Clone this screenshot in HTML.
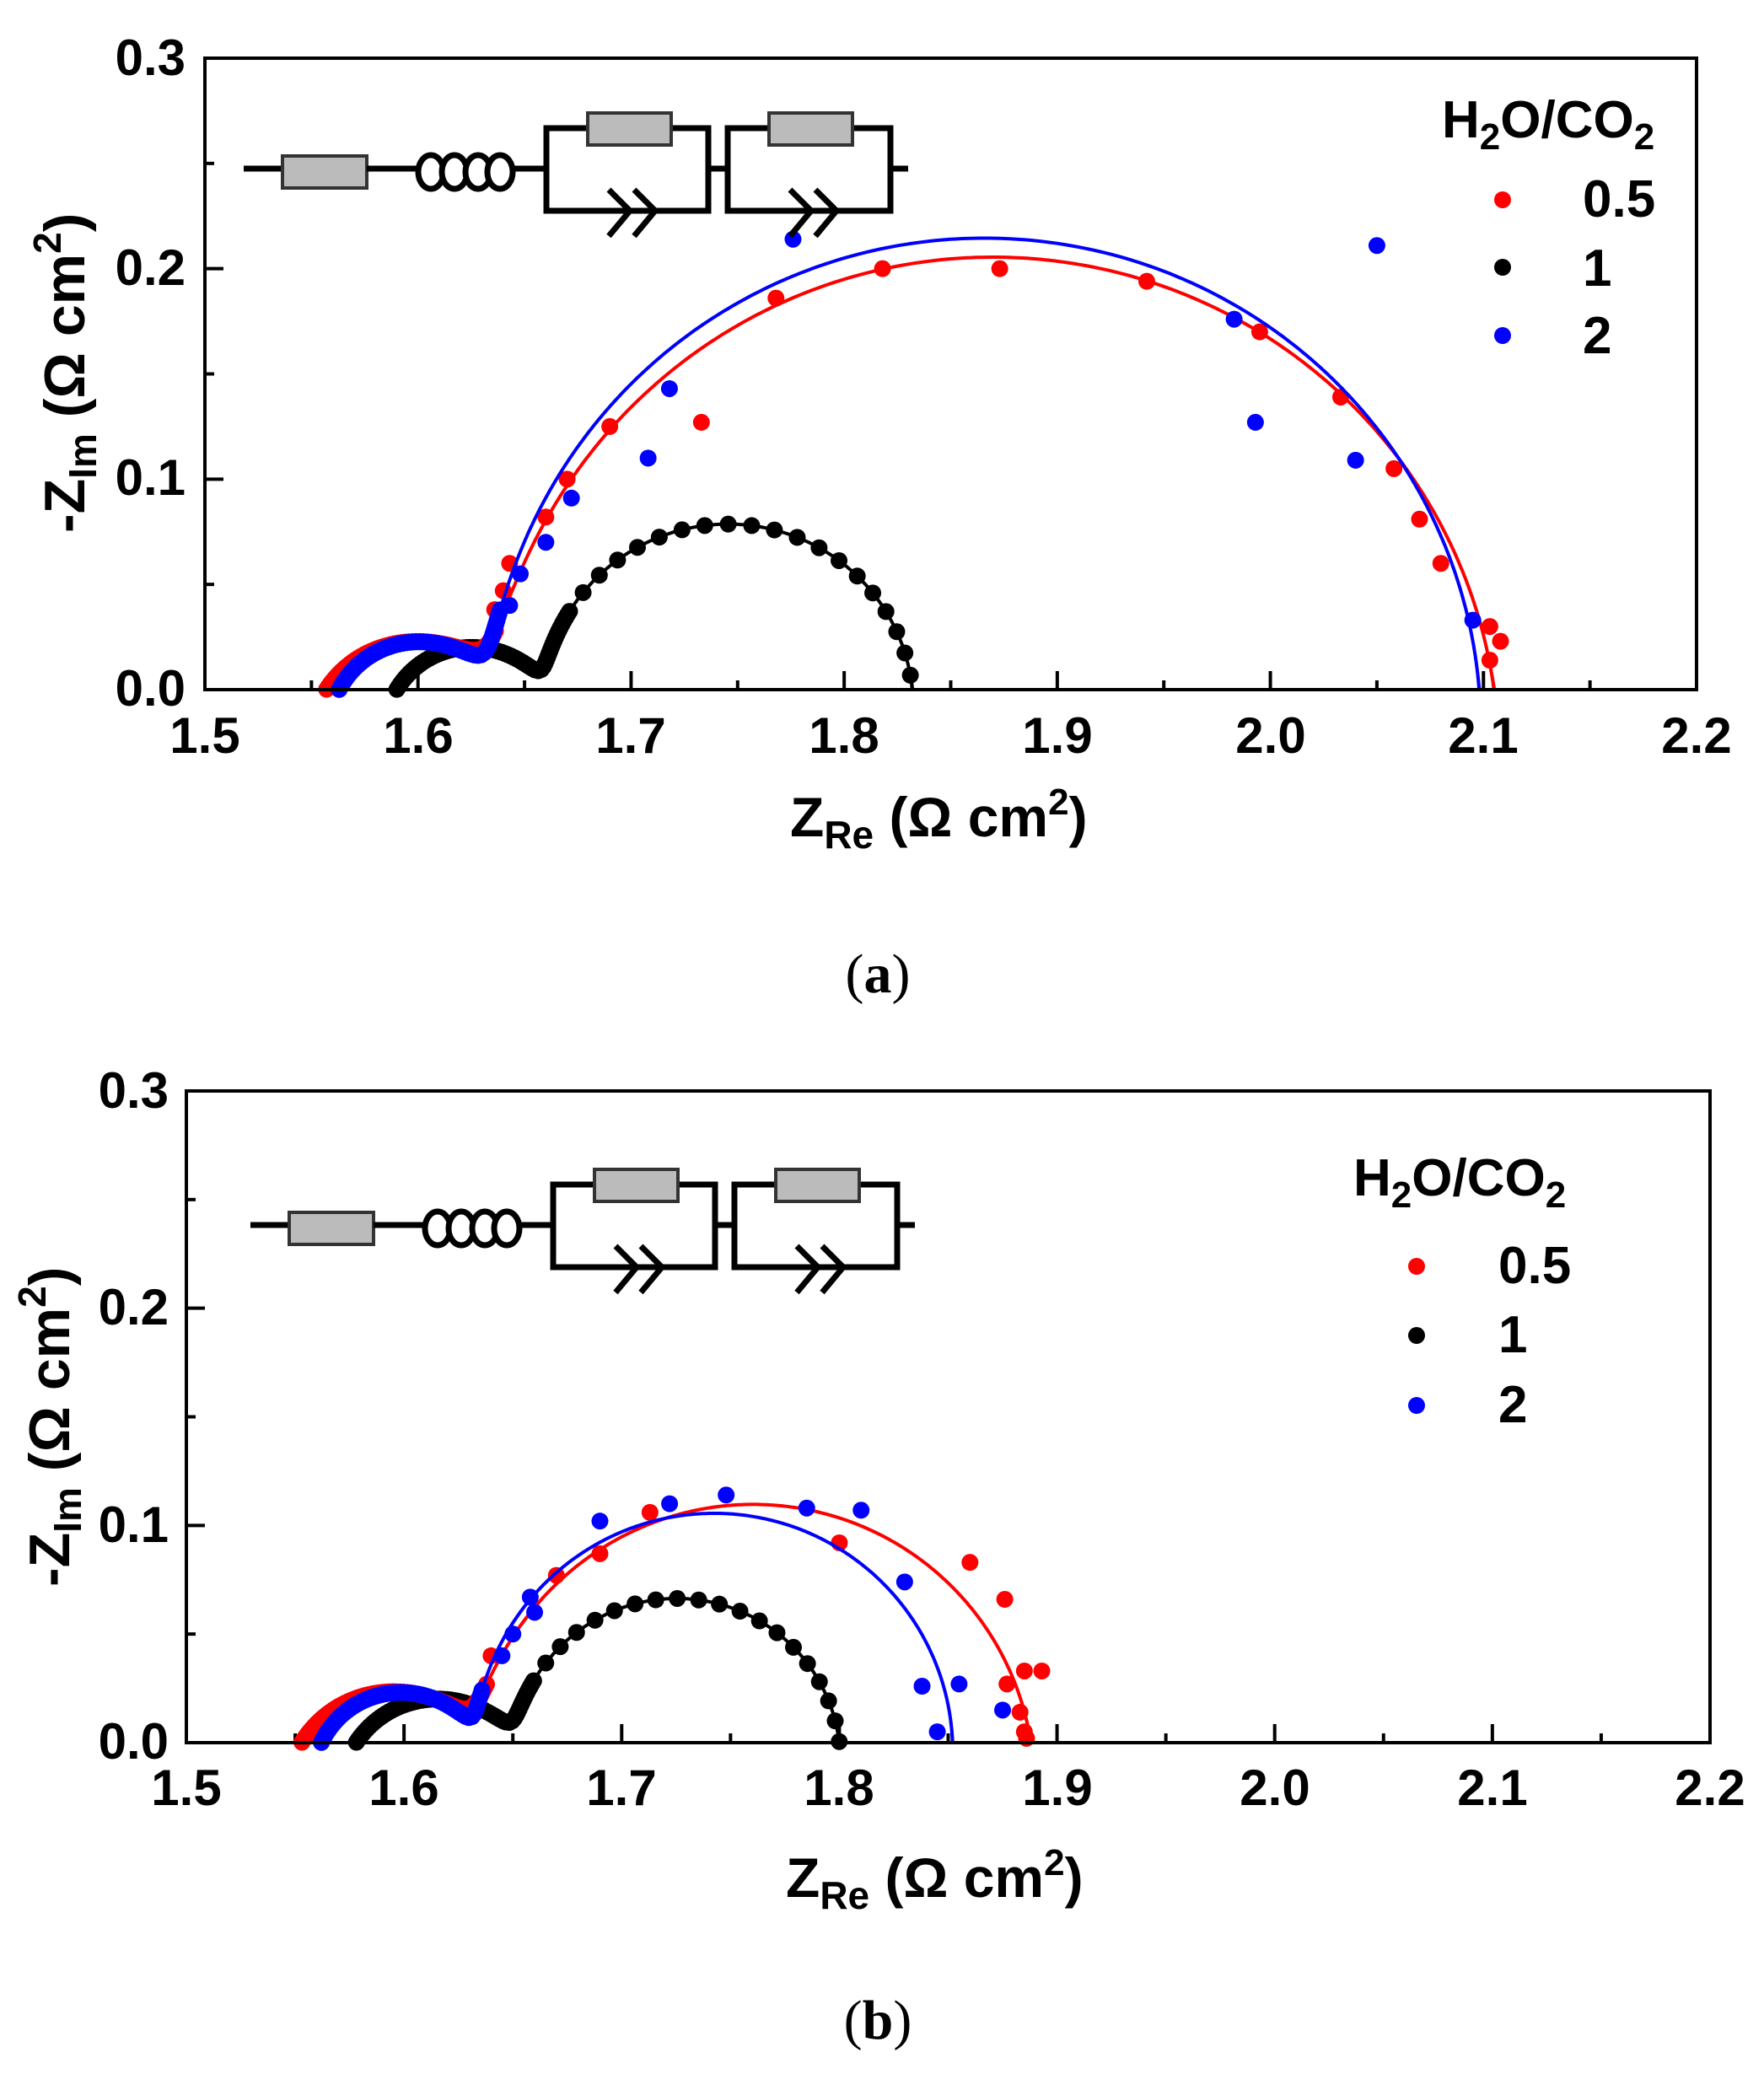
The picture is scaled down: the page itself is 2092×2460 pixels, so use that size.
<!DOCTYPE html>
<html><head><meta charset="utf-8"><style>
html,body{margin:0;padding:0;background:#fff}
svg{display:block}
text{font-family:"Liberation Sans",Arial,sans-serif;font-weight:bold;fill:#000}
.ser{font-family:"Liberation Serif",serif}
</style></head><body>
<svg id="s" width="2092" height="2460" viewBox="0 0 2092 2460" xmlns="http://www.w3.org/2000/svg">
<rect width="2092" height="2460" fill="#fff"/>
<defs>
<g id="circ" stroke="#000" stroke-width="7" fill="none">
  <line x1="289" y1="200" x2="335" y2="200"/>
  <rect x="335" y="185" width="100" height="38" fill="#bbb" stroke="#333" stroke-width="4"/>
  <line x1="435" y1="200" x2="497" y2="200"/>
  <ellipse cx="511" cy="204" rx="15" ry="20" fill="#fff"/>
  <ellipse cx="539" cy="204" rx="15" ry="20" fill="#fff"/>
  <ellipse cx="567" cy="204" rx="15" ry="20" fill="#fff"/>
  <ellipse cx="593" cy="204" rx="15" ry="20" fill="#fff"/>
  <line x1="608" y1="200" x2="648" y2="200"/>
  <polyline points="697,152 648,152 648,250 840,250 840,152 796,152"/>
  <rect x="697" y="134" width="99" height="38" fill="#bbb" stroke="#333" stroke-width="4"/>
  <polyline points="722,225 747,250 722,280"/>
  <polyline points="752,225 777,250 752,280"/>
  <line x1="840" y1="200" x2="863" y2="200"/>
  <polyline points="912,152 863,152 863,250 1056,250 1056,152 1011,152"/>
  <rect x="912" y="134" width="99" height="38" fill="#bbb" stroke="#333" stroke-width="4"/>
  <polyline points="937,225 962,250 937,280"/>
  <polyline points="967,225 992,250 967,280"/>
  <line x1="1056" y1="200" x2="1077" y2="200"/>
</g>
</defs>
<g id="pa"></g><g id="pb"></g>
<use href="#circ"/>
<use href="#circ" transform="translate(8,1253)"/>

<g font-size="60" text-anchor="end">
<text x="220" y="89">0.3</text><text x="220" y="338">0.2</text><text x="220" y="587">0.1</text><text x="220" y="837">0.0</text>
</g>
<g font-size="60" text-anchor="middle">
<text x="243" y="893">1.5</text><text x="496" y="893">1.6</text><text x="748" y="893">1.7</text><text x="1001" y="893">1.8</text><text x="1254" y="893">1.9</text><text x="1507" y="893">2.0</text><text x="1759" y="893">2.1</text><text x="2012" y="893">2.2</text>
</g>
<text x="937" y="992" font-size="66">Z<tspan font-size="46" dy="14">Re</tspan><tspan dy="-14"> (Ω cm</tspan><tspan font-size="44" dy="-26">2</tspan><tspan dy="26">)</tspan></text>
<text transform="translate(100,632) rotate(-90)" font-size="68">-Z<tspan font-size="46" dy="14">Im</tspan><tspan dy="-14"> (Ω cm</tspan><tspan font-size="46" dy="-28">2</tspan><tspan dy="28">)</tspan></text>
<text class="ser" x="1041" y="1177" font-size="66" text-anchor="middle"><tspan font-weight="normal">(</tspan>a<tspan font-weight="normal">)</tspan></text>
<text x="1710" y="163" font-size="62">H<tspan font-size="44" dy="14">2</tspan><tspan dy="-14">O/CO</tspan><tspan font-size="44" dy="14">2</tspan></text>
<circle cx="1782" cy="237" r="10" fill="#f00"/><circle cx="1782" cy="317" r="10" fill="#000"/><circle cx="1782" cy="398" r="10" fill="#00f"/>
<text x="1877" y="257" font-size="62">0.5</text><text x="1877" y="339" font-size="62">1</text><text x="1877" y="419" font-size="62">2</text>

<g font-size="60" text-anchor="end">
<text x="200" y="1314">0.3</text><text x="200" y="1571">0.2</text><text x="200" y="1829">0.1</text><text x="200" y="2086">0.0</text>
</g>
<g font-size="60" text-anchor="middle">
<text x="221" y="2141">1.5</text><text x="479" y="2141">1.6</text><text x="737" y="2141">1.7</text><text x="995" y="2141">1.8</text><text x="1254" y="2141">1.9</text><text x="1512" y="2141">2.0</text><text x="1770" y="2141">2.1</text><text x="2028" y="2141">2.2</text>
</g>
<text x="932" y="2250" font-size="66">Z<tspan font-size="46" dy="14">Re</tspan><tspan dy="-14"> (Ω cm</tspan><tspan font-size="44" dy="-26">2</tspan><tspan dy="26">)</tspan></text>
<text transform="translate(82,1882) rotate(-90)" font-size="68">-Z<tspan font-size="46" dy="14">Im</tspan><tspan dy="-14"> (Ω cm</tspan><tspan font-size="46" dy="-28">2</tspan><tspan dy="28">)</tspan></text>
<text class="ser" x="1041" y="2418" font-size="66" text-anchor="middle"><tspan font-weight="normal">(</tspan>b<tspan font-weight="normal">)</tspan></text>
<text x="1605" y="1418" font-size="62">H<tspan font-size="44" dy="14">2</tspan><tspan dy="-14">O/CO</tspan><tspan font-size="44" dy="14">2</tspan></text>
<circle cx="1680" cy="1502" r="10" fill="#f00"/><circle cx="1680" cy="1584" r="10" fill="#000"/><circle cx="1680" cy="1667" r="10" fill="#00f"/>
<text x="1777" y="1522" font-size="62">0.5</text><text x="1777" y="1604" font-size="62">1</text><text x="1777" y="1687" font-size="62">2</text>
</svg>
<script>
var NS="http://www.w3.org/2000/svg";
function el(p,n,a){var e=document.createElementNS(NS,n);for(var k in a)e.setAttribute(k,a[k]);p.appendChild(e);return e;}
function zc(R,wt,n){var m=Math.pow(wt,n),a=m*Math.cos(n*Math.PI/2),b=m*Math.sin(n*Math.PI/2),d=(1+a)*(1+a)+b*b;return [R*(1+a)/d,R*b/d];}
function panel(gid,L,R,T,B,series){
  var g=document.getElementById(gid);
  var sx=function(v){return L+(v-1.5)/0.7*(R-L)}, sy=function(v){return B-v/0.3*(B-T)};
  for(var i=0;i<=14;i++){var x=L+i*(R-L)/14,len=i%2?11:22;el(g,"line",{x1:x,y1:B,x2:x,y2:B-len,stroke:"#000","stroke-width":4});}
  for(var i=0;i<=6;i++){var y=B-i*(B-T)/6,len=i%2?11:22;el(g,"line",{x1:L,y1:y,x2:L+len,y2:y,stroke:"#000","stroke-width":4});}
  series.forEach(function(s){
    var pts=[];
    for(var lw=8;lw>=-6;lw-=0.005){var w=Math.pow(10,lw);
      var z1=zc(s.R1,w*1e-4,s.n1),z2=zc(s.R2,w*s.t2,s.n2);
      pts.push([sx(s.R0+z1[0]+z2[0]),sy(z1[1]+z2[1])]);}
    var acc=0,first=true,xs=sx(s.denseEnd);
    pts.forEach(function(p,i){
      if(i>0)acc+=Math.hypot(p[0]-pts[i-1][0],p[1]-pts[i-1][1]);
      var d=p[0]<xs?4:s.sp;
      if(d&&(first||acc>=d)){el(g,"circle",{cx:p[0],cy:p[1],r:10,fill:s.c});acc=0;first=false;}
    });
    el(g,"polyline",{points:pts.map(function(p){return p[0].toFixed(1)+","+p[1].toFixed(1)}).join(" "),fill:"none",stroke:s.c,"stroke-width":4});
    (s.pts||[]).forEach(function(p){el(g,"circle",{cx:sx(p[0]),cy:sy(p[1]),r:10,fill:s.c});});
  });
  el(g,"rect",{x:L,y:T,width:R-L,height:B-T,fill:"none",stroke:"#000","stroke-width":4});
}
panel("pa",243,2012,69,818,[
 {c:"#000",R0:1.59,R1:0.07,n1:0.66,R2:0.172,n2:0.94,t2:0.2,denseEnd:1.672,sp:27},
 {c:"#f00",R0:1.557,R1:0.08,n1:0.64,R2:0.468,n2:0.915,t2:0.1,denseEnd:1.637,sp:0,
  pts:[[1.733,0.127],[1.768,0.186],[1.818,0.2],[1.873,0.2],[1.942,0.194],[1.995,0.17],[2.033,0.139],[2.058,0.105],[2.07,0.081],[2.08,0.06],[2.103,0.03],[2.108,0.023],[2.103,0.014],[1.69,0.125],[1.67,0.1],[1.66,0.082],[1.643,0.06],[1.64,0.047],[1.636,0.038]]},
 {c:"#00f",R0:1.563,R1:0.072,n1:0.70,R2:0.463,n2:0.95,t2:0.1,denseEnd:1.639,sp:0,
  pts:[[1.776,0.214],[2.05,0.211],[1.718,0.143],[1.708,0.11],[1.983,0.176],[1.993,0.127],[2.04,0.109],[2.095,0.033],[1.672,0.091],[1.66,0.07],[1.648,0.055],[1.643,0.04]]}
]);
panel("pb",221,2028,1294,2067,[
 {c:"#000",R0:1.578,R1:0.074,n1:0.63,R2:0.148,n2:0.926,t2:0.2,denseEnd:1.66,sp:25},
 {c:"#f00",R0:1.553,R1:0.082,n1:0.65,R2:0.253,n2:0.905,t2:0.1,denseEnd:1.638,sp:0,
  pts:[[1.713,0.106],[1.69,0.087],[1.8,0.092],[1.86,0.083],[1.876,0.066],[1.877,0.027],[1.885,0.033],[1.893,0.033],[1.883,0.014],[1.885,0.005],[1.886,0.002],[1.67,0.077],[1.64,0.04]]},
 {c:"#00f",R0:1.562,R1:0.072,n1:0.72,R2:0.218,n2:0.977,t2:0.1,denseEnd:1.636,sp:0,
  pts:[[1.69,0.102],[1.722,0.11],[1.748,0.114],[1.785,0.108],[1.81,0.107],[1.83,0.074],[1.838,0.026],[1.855,0.027],[1.875,0.015],[1.845,0.005],[1.658,0.067],[1.66,0.06],[1.65,0.05],[1.645,0.04]]}
]);
</script>
</body></html>
